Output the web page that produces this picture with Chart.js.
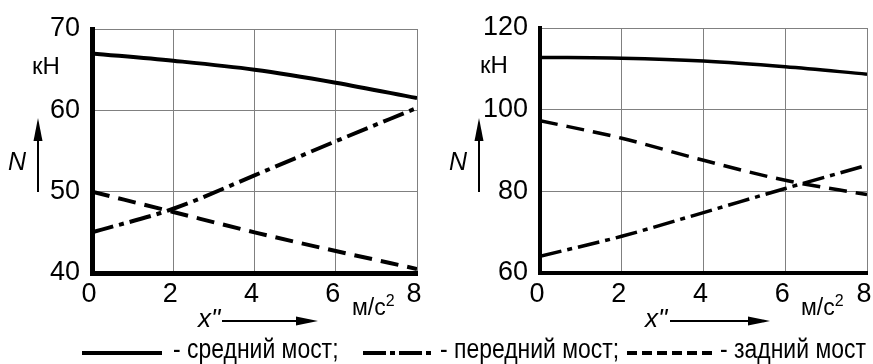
<!DOCTYPE html>
<html>
<head>
<meta charset="utf-8">
<script src="https://cdn.jsdelivr.net/npm/chart.js@4.4.0/dist/chart.umd.min.js"></script>
<style>
body{margin:0;background:#fff;}
#wrap{position:relative;width:873px;height:364px;overflow:hidden;font-family:"Liberation Sans",Arial,sans-serif;color:#000;}
.cv{position:absolute;top:0;height:310px;}
.t{position:absolute;white-space:nowrap;}
.leg{position:absolute;top:336px;font-size:27px;line-height:27px;transform:scaleX(0.85);transform-origin:0 0;white-space:nowrap;}
svg{position:absolute;left:0;top:0;}
</style>
</head>
<body>
<div id="wrap">
  <div class="cv" style="left:0;width:436px"><canvas id="c1"></canvas></div>
  <div class="cv" style="left:436px;width:437px"><canvas id="c2"></canvas></div>

  <div class="t" style="left:32px;top:54px;font-size:24px;line-height:24px">кН</div>
  <div class="t" style="left:480px;top:53px;font-size:24px;line-height:24px">кН</div>
  <div class="t" style="left:8px;top:149px;font-size:25px;line-height:25px;font-style:italic">N</div>
  <div class="t" style="left:449px;top:149px;font-size:25px;line-height:25px;font-style:italic">N</div>
  <div class="t" style="left:198px;top:305px;font-size:26px;line-height:26px;font-style:italic">x"</div>
  <div class="t" style="left:645px;top:305px;font-size:26px;line-height:26px;font-style:italic">x"</div>
  <div class="t" style="left:352px;top:296px;font-size:23px;line-height:23px">м/с<span style="font-size:16px;position:relative;top:-9px">2</span></div>
  <div class="t" style="left:801px;top:296px;font-size:23px;line-height:23px">м/с<span style="font-size:16px;position:relative;top:-9px">2</span></div>

  <svg width="873" height="364">
    <line x1="38" y1="192" x2="38" y2="130" stroke="#000" stroke-width="2"/>
    <polygon points="38,118 33.5,141 42.5,141" fill="#000"/>
    <line x1="479" y1="192" x2="479" y2="130" stroke="#000" stroke-width="2"/>
    <polygon points="479,118 474.5,141 483.5,141" fill="#000"/>
    <line x1="222" y1="321" x2="305" y2="321" stroke="#000" stroke-width="2"/>
    <polygon points="318,321 296,316.5 296,325.5" fill="#000"/>
    <line x1="670" y1="321" x2="757" y2="321" stroke="#000" stroke-width="2"/>
    <polygon points="770,321 748,316.5 748,325.5" fill="#000"/>
    <line x1="82" y1="353" x2="162" y2="353" stroke="#000" stroke-width="4"/>
    <line x1="363" y1="353" x2="432" y2="353" stroke="#000" stroke-width="4" stroke-dasharray="23 4 5 4"/>
    <line x1="627" y1="353" x2="712" y2="353" stroke="#000" stroke-width="4" stroke-dasharray="10 5"/>
  </svg>
  <div class="leg" style="left:173px">- средний мост;</div>
  <div class="leg" style="left:440px">- передний мост;</div>
  <div class="leg" style="left:720px">- задний мост</div>
</div>
<script>
// ускорение x'', м/с2
var xVals = [0, 2, 4, 6, 8];

// левый график, кН
var leftMiddle = [67.0, 66.1, 65.0, 63.4, 61.5];
var leftFront  = [45.0, 47.9, 52.0, 56.2, 60.3];
var leftRear   = [50.0, 47.5, 45.0, 42.7, 40.5];

// правый график, кН
var rightMiddle = [112.8, 112.6, 111.9, 110.5, 108.7];
var rightFront  = [64.1, 69.0, 74.8, 80.7, 86.4];
var rightRear   = [97.3, 93.0, 87.6, 82.7, 79.2];

var leftTicks = {min: 40, max: 70, step: 10};
var rightTicks = {min: 60, max: 120, step: 20};

function pts(ys) {
    return xVals.map(function (x, i) { return {x: x, y: ys[i]}; });
}

function makeChart(id, mid, front, rear, yt, o) {
    var ds = function (data, dash, w) {
        return {
            data: pts(data),
            borderColor: '#000',
            borderWidth: w,
            borderDash: dash,
            pointRadius: 0,
            fill: false,
            tension: 0.4,
            cubicInterpolationMode: 'monotone'
        };
    };
    return new Chart(document.getElementById(id), {
        type: 'line',
        data: {
            datasets: [
                ds(mid, [], o.lw),
                ds(front, [22, 6, 5, 6], o.lw),
                ds(rear, [18, 9], o.lw)
            ]
        },
        options: {
            responsive: true,
            maintainAspectRatio: false,
            animation: false,
            layout: {padding: {left: 0, right: o.padRight, top: o.padTop, bottom: 0}},
            plugins: {legend: {display: false}, tooltip: {enabled: false}},
            scales: {
                x: {
                    type: 'linear',
                    min: 0, max: 8,
                    ticks: {stepSize: 2, color: '#000', padding: 5, labelOffset: -3,
                        font: {family: 'Liberation Sans', size: 27}},
                    grid: {color: '#808080', lineWidth: 1, drawTicks: false},
                    border: {color: '#000', width: o.axisW},
                    afterFit: function (s) { s.height = 37; s.paddingLeft = 0; s.paddingRight = 0; }
                },
                y: {
                    min: yt.min, max: yt.max,
                    ticks: {stepSize: yt.step, color: '#000', padding: 12,
                        font: {family: 'Liberation Sans', size: 27}},
                    grid: {color: '#808080', lineWidth: 1, drawTicks: false},
                    border: {color: '#000', width: o.axisW},
                    afterFit: function (s) { s.width = o.yWidth; s.paddingTop = 0; s.paddingBottom = 0; }
                }
            }
        }
    });
}

makeChart('c1', leftMiddle, leftFront, leftRear, leftTicks, {lw: 4, axisW: 5, yWidth: 92, padRight: 19, padTop: 29});
makeChart('c2', rightMiddle, rightFront, rightRear, rightTicks, {lw: 3.5, axisW: 4, yWidth: 104, padRight: 6, padTop: 28});
</script>
</body>
</html>
